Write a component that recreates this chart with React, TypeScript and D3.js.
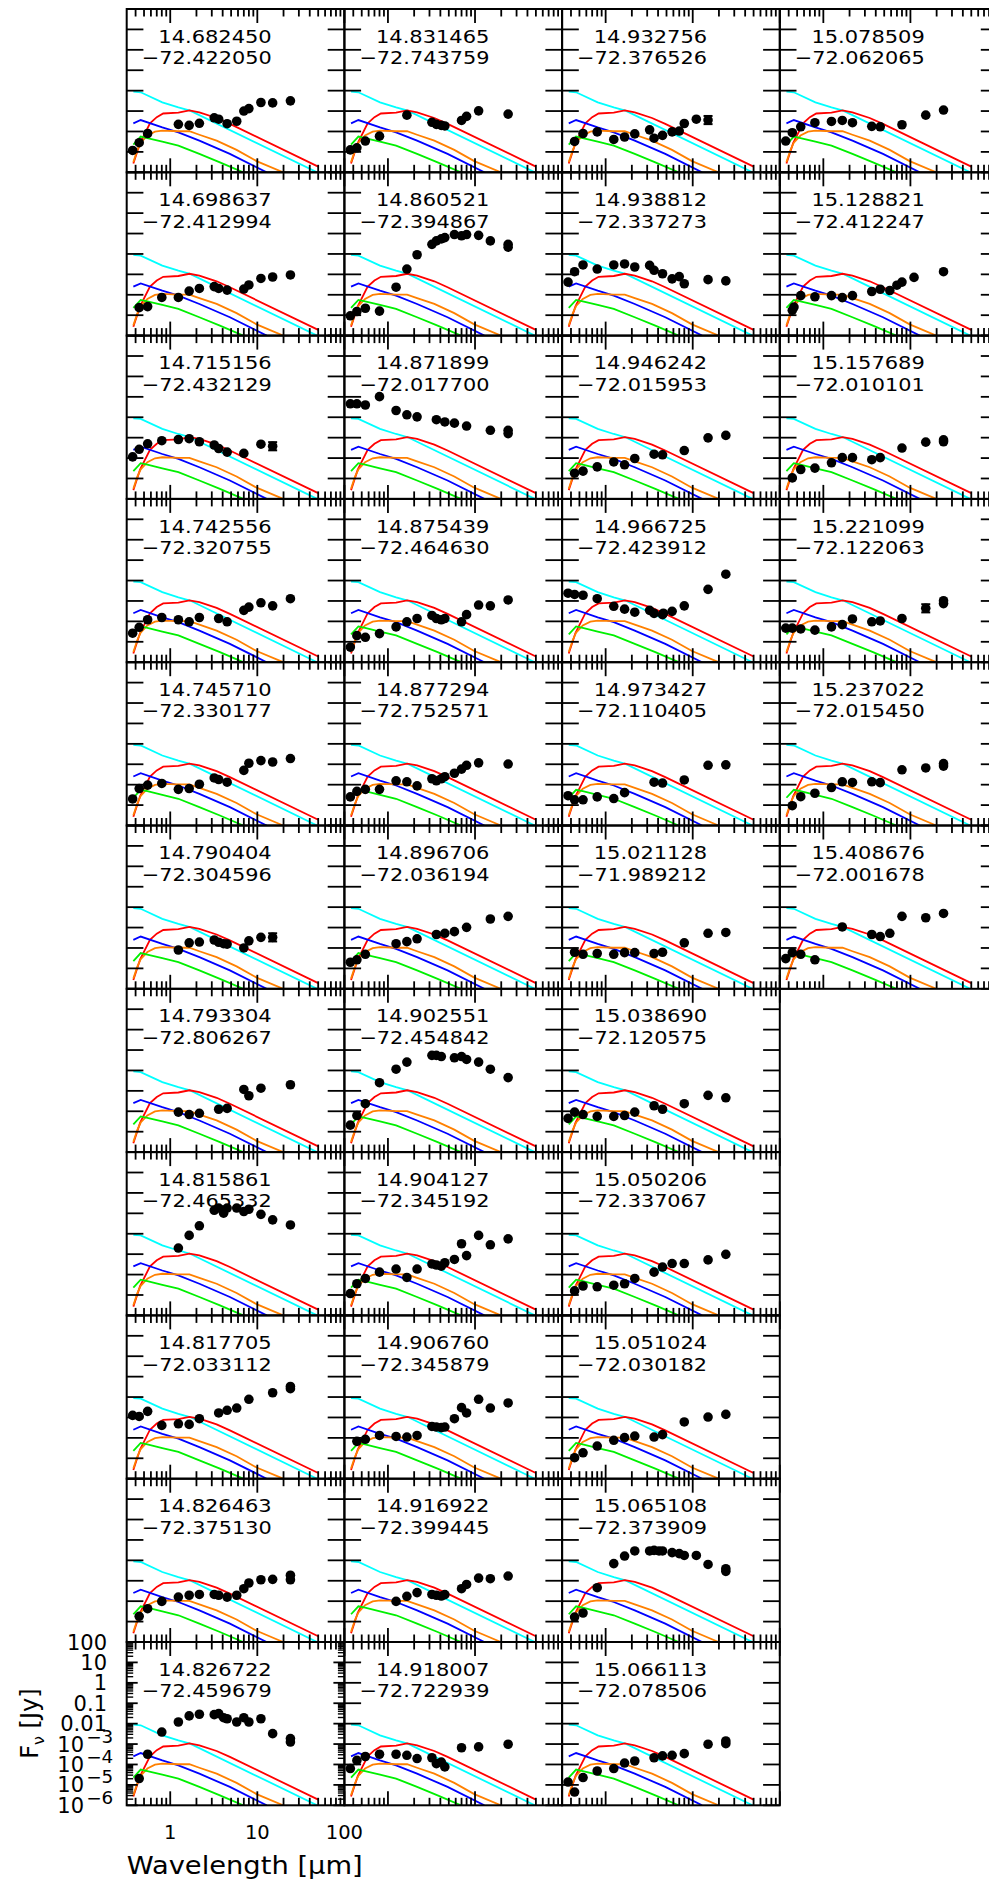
import React from "react";
import * as d3 from "d3";

type Pt = [number, number]; // [wavelength in micron, log10 of F_nu in Jy]

const columnCounts = [11, 11, 11, 6];

const raLabels = [
  "14.682450", "14.698637", "14.715156", "14.742556", "14.745710", "14.790404", "14.793304", "14.815861", "14.817705", "14.826463", "14.826722",
  "14.831465", "14.860521", "14.871899", "14.875439", "14.877294", "14.896706", "14.902551", "14.904127", "14.906760", "14.916922", "14.918007",
  "14.932756", "14.938812", "14.946242", "14.966725", "14.973427", "15.021128", "15.038690", "15.050206", "15.051024", "15.065108", "15.066113",
  "15.078509", "15.128821", "15.157689", "15.221099", "15.237022", "15.408676",
];
const decLabels = [
  "−72.422050", "−72.412994", "−72.432129", "−72.320755", "−72.330177", "−72.304596", "−72.806267", "−72.465332", "−72.033112", "−72.375130", "−72.459679",
  "−72.743759", "−72.394867", "−72.017700", "−72.464630", "−72.752571", "−72.036194", "−72.454842", "−72.345192", "−72.345879", "−72.399445", "−72.722939",
  "−72.376526", "−72.337273", "−72.015953", "−72.423912", "−72.110405", "−71.989212", "−72.120575", "−72.337067", "−72.030182", "−72.373909", "−72.078506",
  "−72.062065", "−72.412247", "−72.010101", "−72.122063", "−72.015450", "−72.001678",
];

const modelCyan: Pt[] = [[0.377, -2.05], [0.458, -2.08], [0.811, -2.57], [1.24, -2.82], [1.69, -2.98], [48.6, -6.0]];
const modelRed: Pt[] = [[0.377, -5.57], [0.45, -4.57], [0.585, -3.6], [0.7, -3.3], [0.83, -3.12], [1.24, -3.08], [1.66, -2.97], [2.16, -3.06], [3.41, -3.34], [4.84, -3.63], [50, -5.72]];
const modelBlue: Pt[] = [[0.377, -3.6], [0.458, -3.44], [0.811, -3.8], [1.24, -4.04], [2.16, -4.45], [4.84, -5.1], [12.8, -6.0]];
const modelOrange: Pt[] = [[0.377, -5.5], [0.42, -4.9], [0.458, -4.55], [0.546, -4.2], [0.668, -4.01], [0.811, -3.96], [1.24, -3.99], [1.66, -3.99], [2.16, -4.16], [3.41, -4.45], [5.78, -4.9], [9.8, -5.45], [19.8, -6.0]];
const modelGreen: Pt[] = [[0.377, -4.64], [0.458, -4.25], [0.546, -4.32], [0.811, -4.5], [1.24, -4.69], [2.16, -5.1], [3.72, -5.51], [6.89, -6.0]];

const sedData: Pt[][] = [
  [[0.37, -4.93], [0.44, -4.55], [0.55, -4.1], [1.24, -3.65], [1.65, -3.7], [2.16, -3.6], [3.2, -3.33], [3.6, -3.4], [4.5, -3.62], [5.8, -3.5], [7, -3.0], [8, -2.88], [11, -2.58], [15, -2.6], [24, -2.5]],
  [[0.44, -4.63], [0.55, -4.58], [0.8, -4.13], [1.24, -4.13], [1.65, -3.82], [2.16, -3.69], [3.2, -3.6], [3.6, -3.69], [4.5, -3.77], [7, -3.72], [8, -3.52], [11, -3.2], [15, -3.13], [24, -3.03]],
  [[0.37, -3.94], [0.44, -3.57], [0.55, -3.3], [0.8, -3.15], [1.24, -3.09], [1.65, -3.05], [2.16, -3.2], [3.2, -3.36], [3.6, -3.53], [4.5, -3.71], [7, -3.77], [11, -3.32], [15, -3.42]],
  [[0.37, -4.58], [0.44, -4.29], [0.55, -3.92], [0.8, -3.81], [1.24, -3.92], [1.65, -4.02], [2.16, -3.81], [3.6, -3.86], [4.5, -4.02], [7, -3.46], [8, -3.3], [11, -3.09], [15, -3.24], [24, -2.89]],
  [[0.37, -4.7], [0.44, -4.19], [0.55, -4.02], [0.8, -3.94], [1.24, -4.23], [1.65, -4.19], [2.16, -3.98], [3.2, -3.67], [3.6, -3.75], [4.5, -3.88], [7, -3.3], [8, -2.95], [11, -2.82], [15, -2.89], [24, -2.72]],
  [[1.24, -4.1], [1.65, -3.75], [2.16, -3.71], [3.2, -3.61], [3.6, -3.72], [4.1, -3.79], [4.5, -3.81], [7, -4.0], [8, -3.65], [11, -3.48], [15, -3.48]],
  [[1.24, -4.04], [1.65, -4.16], [2.16, -4.1], [3.6, -3.9], [4.5, -3.86], [7, -2.93], [8, -3.24], [11, -2.87], [24, -2.7]],
  [[1.24, -2.7], [1.65, -2.08], [2.16, -1.61], [3.2, -0.85], [3.6, -0.74], [4.1, -0.99], [4.5, -0.74], [5.8, -0.74], [7, -0.91], [8, -0.8], [11, -1.05], [15, -1.32], [24, -1.57]],
  [[0.37, -2.9], [0.44, -2.95], [0.55, -2.7], [0.8, -3.39], [1.24, -3.31], [1.65, -3.34], [2.16, -3.06], [3.6, -2.78], [4.5, -2.65], [5.8, -2.54], [8, -2.11], [15, -1.79], [24, -1.59], [24, -1.48]],
  [[0.44, -4.74], [0.55, -4.37], [0.8, -4.01], [1.24, -3.8], [1.65, -3.71], [2.16, -3.67], [3.2, -3.67], [3.6, -3.71], [4.5, -3.8], [5.8, -3.71], [7, -3.39], [8, -3.11], [11, -2.95], [15, -2.93], [24, -2.73], [24, -2.95]],
  [[0.44, -4.69], [0.55, -3.5], [0.8, -2.41], [1.24, -1.92], [1.65, -1.62], [2.16, -1.54], [3.2, -1.56], [3.6, -1.51], [4.1, -1.71], [4.5, -1.76], [5.8, -1.92], [7, -1.71], [8, -1.92], [11, -1.76], [15, -2.49], [24, -2.73], [24, -2.9]],
  [[0.37, -4.9], [0.44, -4.8], [0.55, -4.47], [0.8, -4.23], [1.65, -3.2], [3.2, -3.55], [3.6, -3.65], [4.1, -3.7], [4.5, -3.73], [7, -3.46], [8, -3.26], [11, -2.99], [24, -3.15]],
  [[0.37, -5.03], [0.44, -4.82], [0.55, -4.66], [0.8, -4.8], [1.24, -3.63], [1.65, -2.74], [2.16, -2.04], [3.2, -1.53], [3.6, -1.36], [4.1, -1.26], [4.5, -1.2], [5.8, -1.05], [7, -1.11], [8, -1.05], [11, -1.09], [15, -1.36], [24, -1.53], [24, -1.67]],
  [[0.37, -1.34], [0.44, -1.34], [0.55, -1.4], [0.8, -0.99], [1.24, -1.67], [1.65, -1.88], [2.16, -1.98], [3.6, -2.12], [4.5, -2.23], [5.8, -2.29], [8, -2.43], [15, -2.64], [24, -2.64], [24, -2.8]],
  [[0.37, -5.26], [0.44, -4.7], [0.55, -4.78], [0.8, -4.6], [1.24, -4.27], [1.65, -4.02], [2.16, -3.86], [3.2, -3.71], [3.6, -3.86], [4.1, -3.92], [4.5, -3.86], [7, -4.02], [8, -3.67], [11, -3.2], [15, -3.24], [24, -2.95]],
  [[0.37, -4.6], [0.44, -4.33], [0.55, -4.23], [0.8, -4.23], [1.24, -3.81], [1.65, -3.86], [2.16, -4.06], [3.2, -3.71], [3.6, -3.81], [4.1, -3.71], [4.5, -3.61], [5.8, -3.44], [7, -3.24], [8, -3.05], [11, -2.93], [24, -2.99]],
  [[0.37, -4.7], [0.44, -4.58], [0.55, -4.31], [1.24, -3.79], [1.65, -3.69], [2.16, -3.55], [3.6, -3.34], [4.5, -3.28], [5.8, -3.2], [8, -2.99], [15, -2.58], [24, -2.45]],
  [[0.37, -4.68], [0.44, -4.21], [0.55, -3.63], [0.8, -2.6], [1.24, -1.94], [1.65, -1.59], [3.2, -1.26], [3.6, -1.26], [4.1, -1.32], [5.8, -1.38], [7, -1.32], [8, -1.46], [11, -1.59], [15, -1.94], [24, -2.35]],
  [[0.37, -4.93], [0.44, -4.45], [0.55, -4.19], [0.8, -3.88], [1.24, -3.73], [1.65, -4.14], [2.16, -3.73], [3.2, -3.48], [3.6, -3.53], [4.1, -3.59], [4.5, -3.42], [5.8, -3.26], [7, -2.49], [8, -3.07], [11, -2.08], [15, -2.54], [24, -2.25]],
  [[0.44, -4.17], [0.55, -4.07], [0.8, -3.88], [1.24, -3.93], [1.65, -3.96], [2.16, -3.88], [3.2, -3.44], [3.6, -3.47], [4.1, -3.5], [4.5, -3.47], [5.8, -3.06], [7, -2.52], [8, -2.78], [11, -2.11], [15, -2.54], [24, -2.29]],
  [[1.24, -4.01], [1.65, -3.76], [2.16, -3.58], [3.2, -3.67], [3.6, -3.71], [4.1, -3.75], [4.5, -3.68], [7, -3.39], [8, -3.18], [11, -2.87], [15, -2.9], [24, -2.77]],
  [[0.37, -4.2], [0.44, -3.8], [0.55, -3.61], [0.8, -3.5], [1.24, -3.5], [1.65, -3.55], [2.16, -3.71], [3.2, -3.67], [3.6, -3.96], [4.1, -3.88], [4.5, -4.12], [7, -3.18], [11, -3.14], [24, -3.01]],
  [[0.44, -4.49], [0.55, -4.1], [0.8, -4.02], [1.24, -4.39], [1.65, -4.27], [2.16, -4.12], [3.2, -3.92], [3.6, -4.33], [4.5, -4.19], [5.8, -4.02], [7, -3.98], [8, -3.61], [11, -3.4], [15, -3.44]],
  [[0.37, -3.38], [0.44, -2.87], [0.55, -2.54], [0.8, -2.74], [1.24, -2.54], [1.65, -2.49], [2.16, -2.64], [3.2, -2.56], [3.6, -2.8], [4.5, -2.97], [5.8, -3.22], [7, -3.11], [8, -3.46], [15, -3.26], [24, -3.32]],
  [[0.44, -4.74], [0.55, -4.64], [0.8, -4.43], [1.24, -4.19], [1.65, -4.33], [2.16, -4.02], [3.6, -3.81], [4.5, -3.84], [8, -3.63], [15, -3.01], [24, -2.89]],
  [[0.37, -2.62], [0.44, -2.68], [0.55, -2.72], [0.8, -2.89], [1.24, -3.26], [1.65, -3.4], [2.16, -3.55], [3.2, -3.46], [3.6, -3.61], [4.5, -3.67], [4.6, -3.6], [5.8, -3.51], [8, -3.24], [15, -2.43], [24, -1.69]],
  [[0.37, -4.54], [0.44, -4.74], [0.55, -4.74], [0.8, -4.6], [1.24, -4.68], [1.65, -4.39], [3.6, -3.88], [4.5, -3.92], [8, -3.77], [15, -3.05], [24, -3.03]],
  [[0.44, -4.21], [0.55, -4.31], [0.8, -4.27], [1.24, -4.31], [1.65, -4.23], [2.16, -4.23], [3.6, -4.27], [4.5, -4.21], [8, -3.75], [15, -3.28], [24, -3.24]],
  [[0.37, -4.35], [0.44, -4.04], [0.55, -4.16], [0.8, -4.25], [1.24, -4.25], [1.65, -4.21], [2.16, -4.04], [3.6, -3.73], [4.5, -3.9], [8, -3.63], [15, -3.22], [24, -3.34]],
  [[0.44, -4.8], [0.55, -4.56], [0.8, -4.6], [1.24, -4.52], [1.65, -4.45], [2.16, -4.19], [3.6, -3.88], [4.5, -3.63], [5.8, -3.46], [8, -3.46], [15, -3.28], [24, -3.01]],
  [[0.44, -4.97], [0.55, -4.73], [0.8, -4.4], [1.24, -4.12], [1.65, -3.99], [2.16, -3.91], [3.6, -3.96], [4.5, -3.84], [8, -3.22], [15, -2.98], [24, -2.85]],
  [[0.44, -4.78], [0.55, -4.58], [0.8, -3.34], [1.24, -2.16], [1.65, -1.79], [2.16, -1.54], [3.2, -1.54], [3.6, -1.51], [4.1, -1.54], [4.5, -1.54], [5.8, -1.62], [7, -1.67], [8, -1.76], [11, -1.76], [15, -2.2], [24, -2.41], [24, -2.54]],
  [[0.37, -4.86], [0.44, -5.35], [0.55, -4.64], [0.8, -4.32], [1.24, -4.2], [1.65, -3.93], [2.16, -3.83], [3.6, -3.67], [4.5, -3.58], [5.8, -3.55], [8, -3.47], [15, -3.01], [24, -2.85], [24, -2.98]],
  [[0.37, -4.47], [0.44, -4.06], [0.55, -3.77], [0.8, -3.57], [1.24, -3.51], [1.65, -3.46], [2.16, -3.57], [3.6, -3.75], [4.5, -3.77], [8, -3.67], [15, -3.2], [24, -2.95]],
  [[0.44, -4.76], [0.46, -4.6], [0.55, -4.04], [0.8, -4.1], [1.24, -4.04], [1.65, -4.14], [2.16, -4.04], [3.6, -3.84], [4.5, -3.73], [5.8, -3.79], [7, -3.53], [8, -3.38], [11, -3.15], [24, -2.87]],
  [[0.44, -4.97], [0.55, -4.56], [0.8, -4.49], [1.24, -4.23], [1.65, -3.98], [2.16, -3.98], [3.6, -4.08], [4.5, -3.98], [8, -3.51], [15, -3.22], [24, -3.11], [24, -3.2]],
  [[0.37, -4.33], [0.44, -4.33], [0.55, -4.37], [0.8, -4.43], [1.24, -4.27], [1.65, -4.16], [2.16, -3.88], [3.6, -4.02], [4.5, -3.98], [8, -3.86], [15, -3.36], [24, -2.99], [24, -3.13]],
  [[0.44, -5.03], [0.55, -4.59], [0.8, -4.42], [1.24, -4.14], [1.65, -3.86], [2.16, -3.89], [3.6, -3.86], [4.5, -3.9], [8, -3.27], [15, -3.18], [24, -3.09], [24, -2.97]],
  [[0.37, -4.52], [0.44, -4.23], [0.55, -4.31], [0.8, -4.58], [1.65, -2.97], [3.6, -3.34], [4.5, -3.44], [5.8, -3.28], [8, -2.45], [15, -2.52], [24, -2.31]],
];

// panels whose 15 micron point carries a visible error bar, and its half-size in dex
const errorBarPanels = [2, 5, 22, 36];
const errorBarWave = 15;
const errorBarDex = 0.2;

const yTickExponents = [2, 1, 0, -1, -2, -3, -4, -5, -6];
const xTickLabels = [1, 10, 100];

const LEFT = 126.7;
const TOP = 9;
const PW = 217.7;
const PH = 163.3;
const FONT = "DejaVu Sans, sans-serif";

const models: { pts: Pt[]; color: string }[] = [
  { pts: modelCyan, color: "#00ffff" },
  { pts: modelRed, color: "#ff0000" },
  { pts: modelBlue, color: "#0000ff" },
  { pts: modelOrange, color: "#ff8000" },
  { pts: modelGreen, color: "#00f000" },
];

export default function App() {
  const x = d3.scaleLog().domain([10 ** -0.5, 100]).range([0, PW]);
  const y = d3.scaleLog().domain([1e-6, 100]).range([PH, 0]);
  const line = d3
    .line<Pt>()
    .x((d) => x(d[0]))
    .y((d) => y(10 ** d[1]));

  const xTicks: { v: number; major: boolean }[] = [];
  for (let e = -1; e <= 2; e++) {
    for (let m = 1; m <= 9; m++) {
      const v = m * 10 ** e;
      if (v >= 10 ** -0.5 - 1e-9 && v <= 100 + 1e-9) xTicks.push({ v, major: m === 1 });
    }
  }
  const yMinor: number[] = [];
  for (let e = -6; e < 2; e++) for (let m = 2; m <= 9; m++) yMinor.push(m * 10 ** e);

  const panels: { c: number; r: number; i: number }[] = [];
  let idx = 0;
  columnCounts.forEach((n, c) => {
    for (let r = 0; r < n; r++) panels.push({ c, r, i: idx++ });
  });
  const labelled = 10;

  return (
    <>
      <style>{`body{margin:0;overflow:hidden;background:#fff}`}</style>
      <svg width={989} height={1883} style={{ display: "block" }} fontFamily={FONT}>
        <rect width={989} height={1883} fill="#fff" />
        <defs>
          <clipPath id="pclip">
            <rect x={0} y={0} width={PW} height={PH} />
          </clipPath>
        </defs>
        {panels.map(({ c, r, i }) => {
          const isLab = i === labelled;
          const yMaj = isLab ? 11 : 16.7;
          const hasErr = errorBarPanels.includes(i);
          return (
            <g key={i} transform={`translate(${LEFT + c * PW},${TOP + r * PH})`}>
              <g clipPath="url(#pclip)">
                {models.map((m, k) => (
                  <path key={k} d={line(m.pts) || ""} fill="none" stroke={m.color} strokeWidth={1.8} />
                ))}
              </g>
              {sedData[i].map((d, k) => (
                <circle key={k} cx={x(d[0])} cy={y(10 ** d[1])} r={4.8} fill="#000" />
              ))}
              {hasErr &&
                sedData[i]
                  .filter((d) => d[0] === errorBarWave)
                  .map((d, k) => {
                    const xx = x(d[0]);
                    const y1 = y(10 ** (d[1] + errorBarDex));
                    const y2 = y(10 ** (d[1] - errorBarDex));
                    return (
                      <g key={"e" + k} stroke="#000" strokeWidth={2}>
                        <line x1={xx} x2={xx} y1={y1} y2={y2} />
                        <line x1={xx - 4.5} x2={xx + 4.5} y1={y1} y2={y1} />
                        <line x1={xx - 4.5} x2={xx + 4.5} y1={y2} y2={y2} />
                      </g>
                    );
                  })}
              <rect x={0} y={0} width={PW} height={PH} fill="none" stroke="#000" strokeWidth={2} />
              {xTicks.map((t, k) => {
                const len = t.major ? 14 : 7.5;
                const xx = x(t.v);
                return (
                  <g key={"x" + k} stroke="#000" strokeWidth={1.8}>
                    <line x1={xx} x2={xx} y1={PH} y2={PH - len} />
                    <line x1={xx} x2={xx} y1={0} y2={len} />
                  </g>
                );
              })}
              {yTickExponents.map((e) => {
                const yy = y(10 ** e);
                return (
                  <g key={"y" + e} stroke="#000" strokeWidth={1.8}>
                    <line x1={0} x2={yMaj} y1={yy} y2={yy} />
                    <line x1={PW} x2={PW - yMaj} y1={yy} y2={yy} />
                  </g>
                );
              })}
              {isLab &&
                yMinor.map((v, k) => {
                  const yy = y(v);
                  return (
                    <g key={"ym" + k} stroke="#000" strokeWidth={1.4}>
                      <line x1={0} x2={6.5} y1={yy} y2={yy} />
                      <line x1={PW} x2={PW - 6.5} y1={yy} y2={yy} />
                    </g>
                  );
                })}
              <text x={145} y={33.7} textAnchor="end" fontSize={18.5} textLength={113.4} lengthAdjust="spacingAndGlyphs" fill="#000">
                {raLabels[i]}
              </text>
              <text x={145} y={55.3} textAnchor="end" fontSize={18.5} textLength={130} lengthAdjust="spacingAndGlyphs" fill="#000">
                {decLabels[i]}
              </text>
              {isLab && (
                <g fill="#000">
                  {yTickExponents.map((e) => {
                    const yy = y(10 ** e);
                    if (e >= -2) {
                      const s = e >= 0 ? String(10 ** e) : e === -1 ? "0.1" : "0.01";
                      return (
                        <text key={"yl" + e} x={-19.7} y={yy + 7.6} textAnchor="end" fontSize={21}>
                          {s}
                        </text>
                      );
                    }
                    return (
                      <g key={"yl" + e}>
                        <text x={-42.7} y={yy + 7.6} textAnchor="end" fontSize={21}>
                          10
                        </text>
                        <text x={-40.5} y={yy - 1.5} textAnchor="start" fontSize={17} textLength={27} lengthAdjust="spacingAndGlyphs">
                          {"−" + String(-e)}
                        </text>
                      </g>
                    );
                  })}
                  {xTickLabels.map((v) => (
                    <text key={"xl" + v} x={x(v)} y={PH + 34} textAnchor="middle" fontSize={19.5}>
                      {String(v)}
                    </text>
                  ))}
                  <text x={0} y={PH + 69} textAnchor="start" fontSize={24} textLength={236} lengthAdjust="spacingAndGlyphs">
                    Wavelength [μm]
                  </text>
                  <text transform={`translate(${-88.7},${PH / 2}) rotate(-90)`} textAnchor="middle" fontSize={24}>
                    F
                    <tspan fontSize={16} dy={6}>ν</tspan>
                    <tspan dy={-6}> [Jy]</tspan>
                  </text>
                </g>
              )}
            </g>
          );
        })}
      </svg>
    </>
  );
}
